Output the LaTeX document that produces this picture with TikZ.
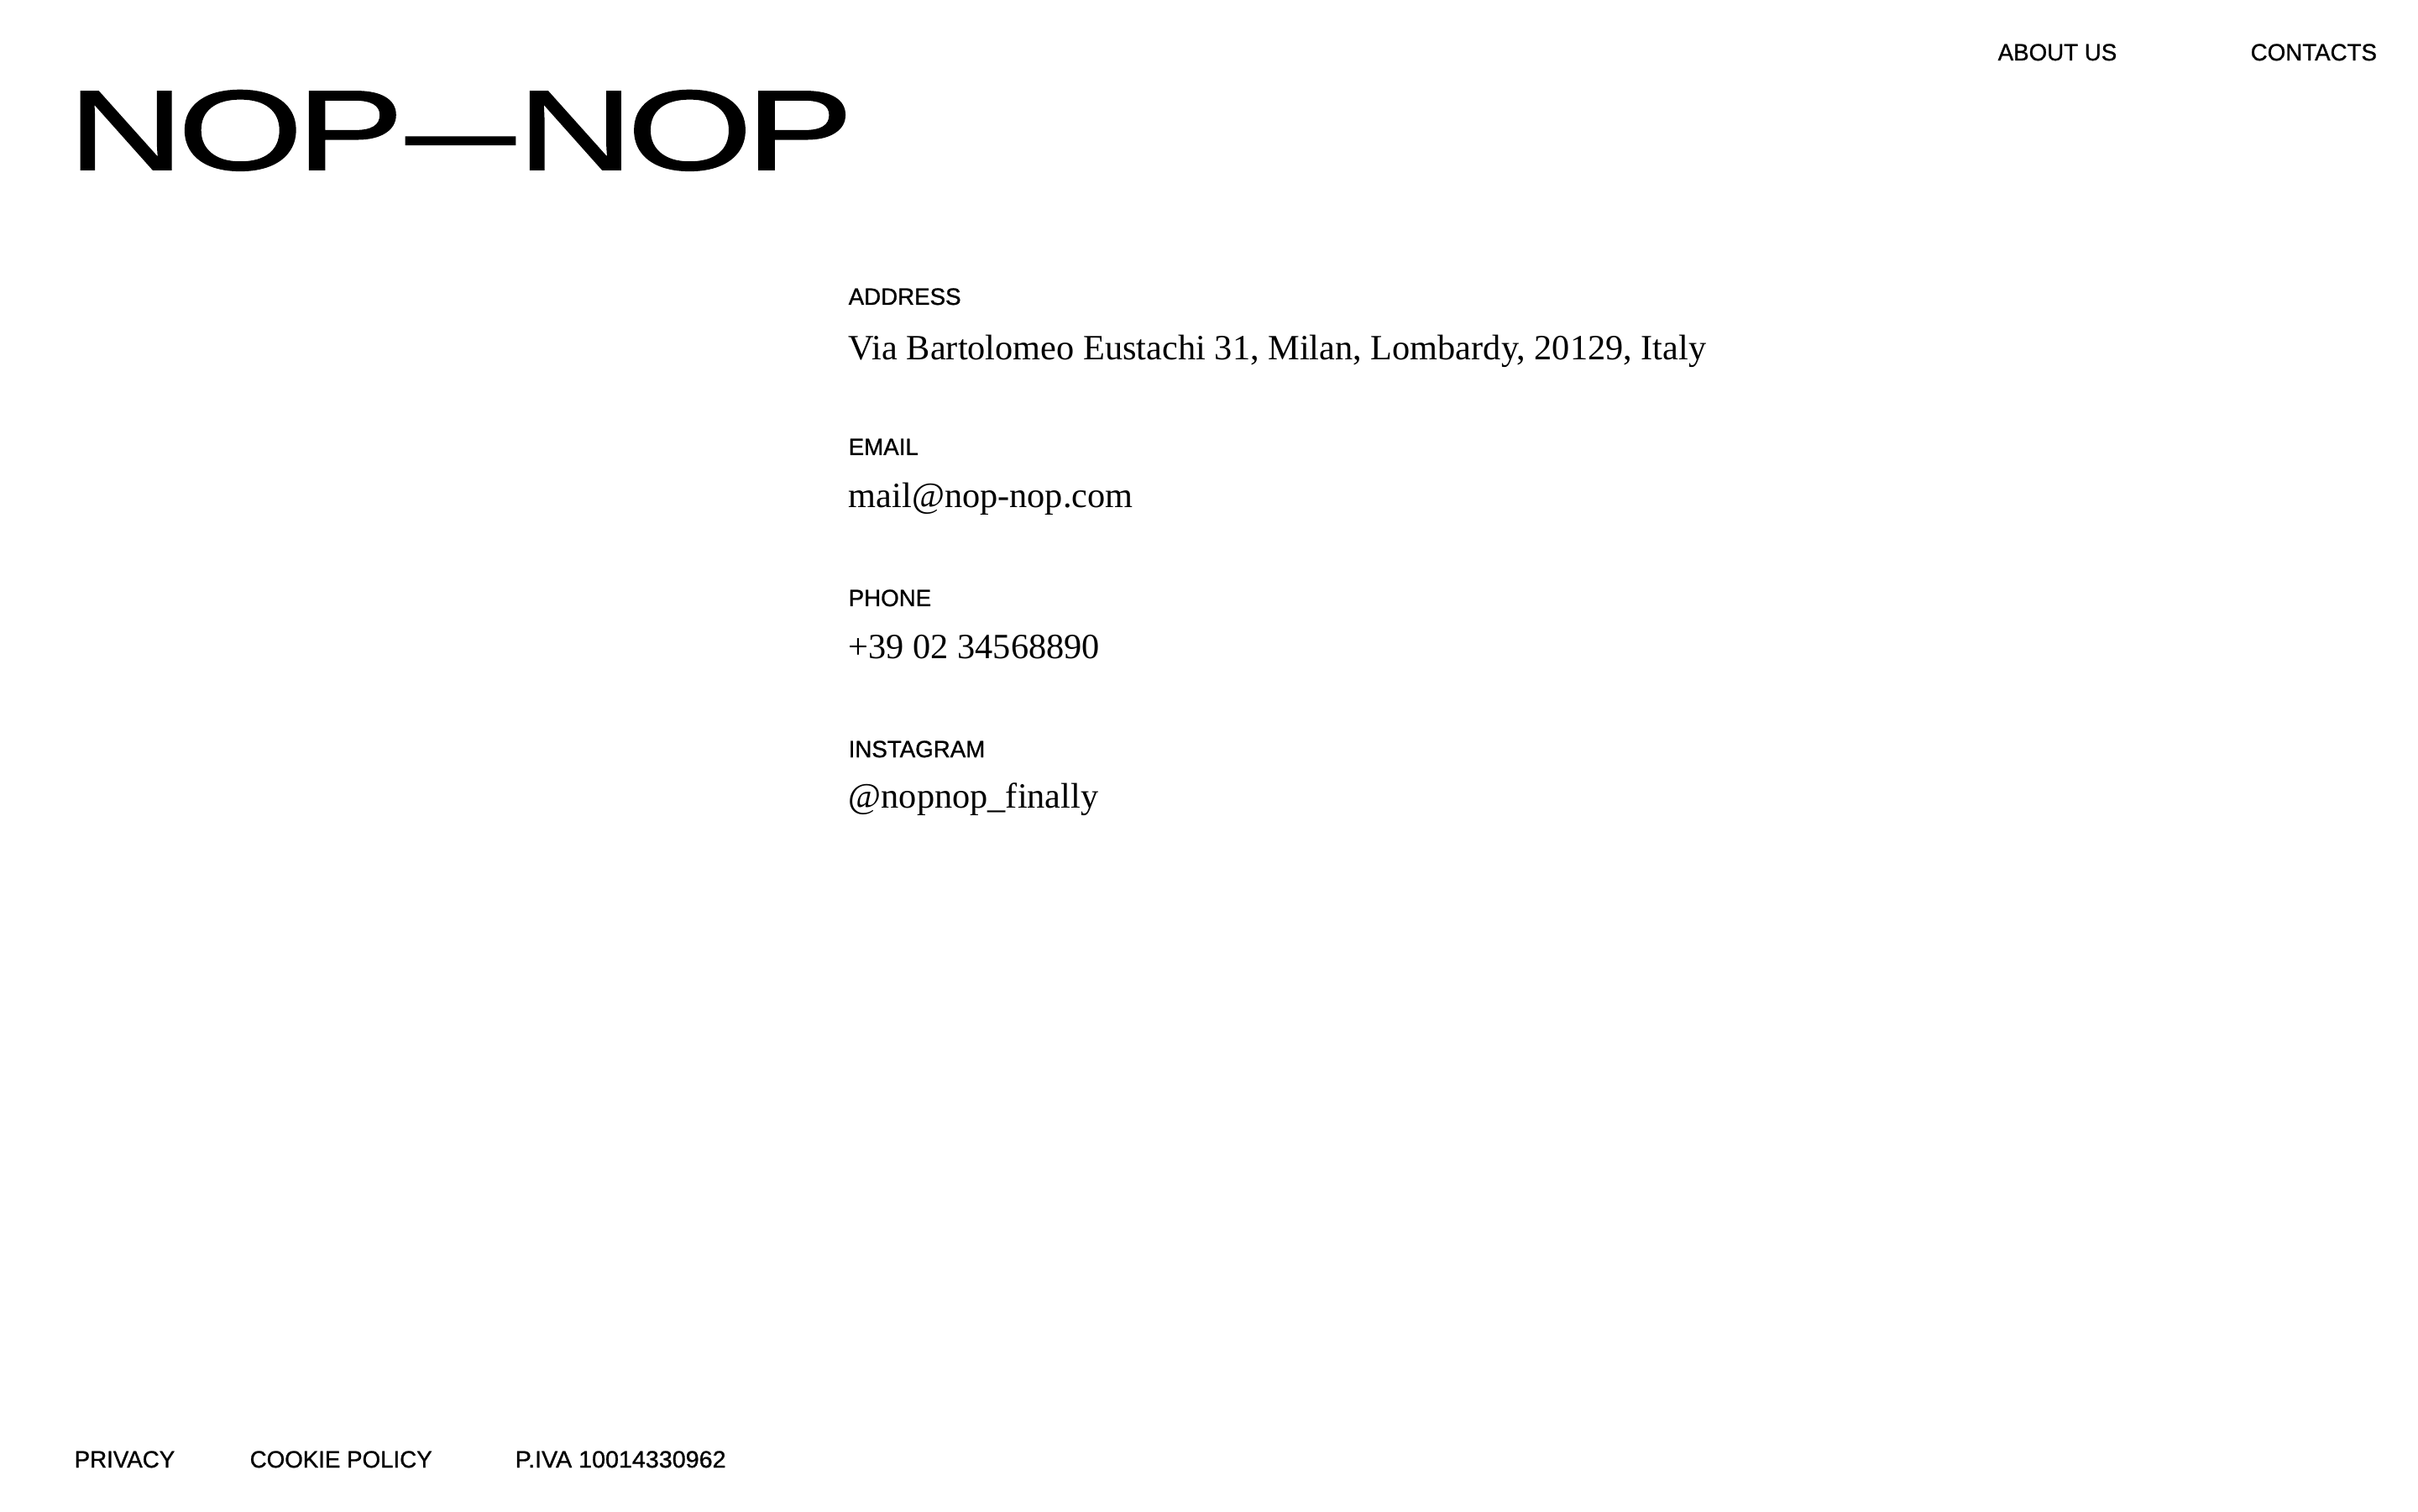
\documentclass[tikz,border=0pt]{standalone}
\usepackage{fontspec}
\setmainfont{Liberation Serif}
\setsansfont{Liberation Sans}
\newfontfamily\logofont[FakeStretch=1.42,LetterSpace=-5.9,FakeBold=1.2]{Liberation Sans}
\newfontfamily\labelfont[FakeStretch=0.985,FakeBold=0.9]{Liberation Sans}
\newfontfamily\numberfont[FakeStretch=1.02,FakeBold=0.9]{Liberation Sans}
\tikzset{
  logotext/.style={anchor=base west, inner sep=0pt, font=\logofont\fontsize{38.5}{44}\selectfont},
  labeltext/.style={anchor=base west, inner sep=0pt, font=\labelfont\fontsize{8}{10}\selectfont},
  valuetext/.style={anchor=base west, inner sep=0pt, font=\rmfamily\fontsize{12.05}{14}\selectfont},
}

\begin{document}
\begin{tikzpicture}
  \useasboundingbox (0,0) rectangle (28.8,18);
  \fill[white] (0,0) rectangle (28.8,18);

  \node[logotext] (logo) at (0.80,15.98) {NOP\hspace{0.6pt}\scalebox{0.68}[1]{—}\hspace{0.6pt}NOP};

  \node[labeltext] (about) at (23.79,17.28) {ABOUT US};
  \node[labeltext] (contacts) at (26.80,17.28) {CONTACTS};

  \node[labeltext] (addresslabel) at (10.10,14.37) {ADDRESS};
  \node[valuetext] (address) at (10.10,13.71) {Via Bartolomeo Eustachi 31, Milan, Lombardy, 20129, Italy};
  \node[labeltext] (emaillabel) at (10.10,12.58) {EMAIL};
  \node[valuetext] (email) at (10.10,11.95) {mail@nop-nop.com};
  \node[labeltext] (phonelabel) at (10.10,10.78) {PHONE};
  \node[valuetext] (phone) at (10.10,10.15) {+39 02 34568890};
  \node[labeltext] (instagramlabel) at (10.10,8.98) {INSTAGRAM};
  \node[valuetext] (instagram) at (10.10,8.37) {@nopnop\_finally};

  \node[labeltext] (privacy) at (0.88,0.52) {PRIVACY};
  \node[labeltext] (cookie) at (2.97,0.52) {COOKIE POLICY};
  \node[labeltext, font=\numberfont\fontsize{8}{10}\selectfont] (piva) at (6.13,0.52) {P.IVA 10014330962};
\end{tikzpicture}
\end{document}
